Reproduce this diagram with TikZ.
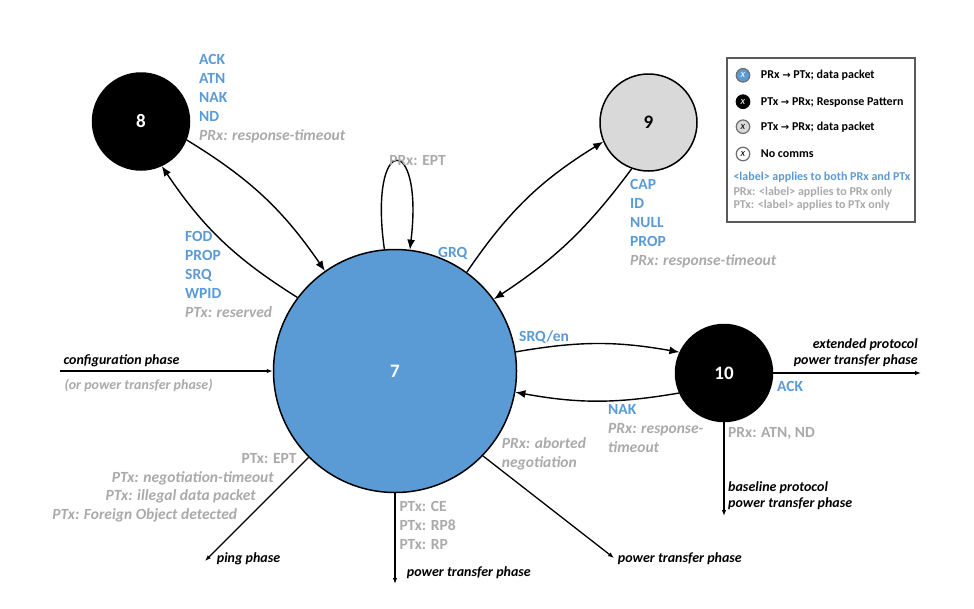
\documentclass[tikz,border=0pt]{standalone}
\usepackage{fontspec}
\setmainfont{Carlito}
\newfontfamily\symfont{DejaVu Sans}
\usetikzlibrary{arrows.meta}
\definecolor{cblue}{RGB}{91,155,213}
\definecolor{cgray}{RGB}{170,170,170}
\definecolor{cfill}{RGB}{217,217,217}
\definecolor{cbox}{RGB}{90,90,90}
\definecolor{cring}{RGB}{110,110,110}
\tikzset{
  state/.style={circle, draw=black, line width=1.5pt, inner sep=0pt, font=\fontsize{19}{23}\selectfont\bfseries},
  bigstate/.style={state, minimum size=243pt, fill=cblue, text=white},
  blackstate/.style={state, minimum size=97pt, fill=black, text=white},
  graystate/.style={state, minimum size=97pt, fill=cfill, text=black},
  conn/.style={line width=1.4pt, -{Latex[length=10pt,width=8pt]}},
  exitarr/.style={line width=1.3pt, -{Latex[length=6pt,width=4.5pt]}},
  lab/.style={inner sep=0pt, align=left, font=\fontsize{15.5}{19}\selectfont\bfseries},
  blab/.style={lab, text=cblue},
  glab/.style={inner sep=0pt, text=cgray, font=\fontsize{15.5}{19}\selectfont\bfseries\itshape},
  glabup/.style={inner sep=0pt, text=cgray, font=\fontsize{15.5}{19}\selectfont\bfseries},
  phase/.style={inner sep=0pt, text=black, font=\fontsize{14}{16}\selectfont\bfseries\itshape},
  gphase/.style={inner sep=0pt, text=cgray, font=\fontsize{14}{16}\selectfont\bfseries\itshape},
  icon/.style={circle, draw=cring, line width=1.2pt, minimum size=13.5pt, inner sep=0pt, font=\fontsize{10.5}{11}\selectfont\itshape},
  legtext/.style={inner sep=0pt, anchor=base west, font=\fontsize{12}{14}\selectfont\bfseries},
}
\newcommand{\gi}[1]{\textcolor{cgray}{\itshape #1}}
\newcommand{\arr}{{\symfont\fontsize{10}{12}\selectfont\bfseries →}}
\begin{document}
\begin{tikzpicture}[x=1pt,y=1pt]
\useasboundingbox[fill=white] (0,0) rectangle (974,-608);

% states
\node[bigstate] (n7) at (395,-371) {7};
\node[blackstate] (n8) at (141,-121.5) {8};
\node[graystate] (n9) at (648.5,-122.5) {9};
\node[blackstate] (n10) at (724,-373) {10};

% connectors between states
\draw[conn] (n7.143) to[bend left=12] (n8.-65);
\draw[conn] (n8.-22) to[bend left=12] (n7.125);
\draw[conn] (n7.95) .. controls (368,-132) and (424,-132) .. (n7.83);
\draw[conn] (n7.54) to[bend left=12] (n9.-157);
\draw[conn] (n9.-110) to[bend left=10] (n7.36);
\draw[conn] (n7.9) to[bend left=10] (n10.155);
\draw[conn] (n10.204) to[bend left=10] (n7.-10);

% entry / exits
\coordinate (c0) at (60,-371);
\coordinate (e1) at (921,-373);
\coordinate (e2) at (724,-516);
\coordinate (p1) at (205,-561);
\coordinate (p2) at (395,-584);
\coordinate (p3) at (614,-558);
\draw[exitarr] (c0) -- (n7.west);
\draw[exitarr] (n10.east) -- (e1);
\draw[exitarr] (n10.south) -- (e2);
\draw[exitarr] (n7.-135) -- (p1);
\draw[exitarr] (n7.south) -- (p2);
\draw[exitarr] (n7.-44) -- (p3);

% labels
\node[blab, anchor=north west] (l8) at (199,-50.7) {\strut ACK\\ATN\\NAK\\ND\\\gi{PRx: response-timeout}};
\node[blab, anchor=north west] (l78) at (185,-227.7) {\strut FOD\\PROP\\SRQ\\WPID\\\gi{PTx: reserved}};
\node[blab, anchor=north west] (l9) at (630,-176) {\strut CAP\\ID\\NULL\\PROP\\\gi{PRx: response-timeout}};
\node[blab, anchor=north west] (l107) at (608,-400.7) {\strut NAK\\\gi{PRx: response-}\\\gi{timeout}};
\node[glab, align=left, anchor=north west] (lab) at (501.7,-435) {\strut PRx: aborted\\negotiation};
\node[glabup, align=left, anchor=north west] (lce) at (399.3,-497.7) {\strut PTx: CE\\PTx: RP8\\PTx: RP};
\node[glabup, anchor=base] (lept) at (417.5,-165) {PRx: EPT};
\node[blab, anchor=base west] (lgrq) at (438,-257) {GRQ};
\node[blab, anchor=base west] (lsrq) at (519,-341.7) {SRQ/en};
\node[blab, anchor=base west] (lack) at (777,-391.7) {ACK};
\node[glabup, anchor=base west] (latn) at (728,-437.7) {PRx: ATN, ND};

\node[glabup, anchor=base east] (lp1) at (296.7,-463.3) {PTx: EPT};
\node[glab, anchor=base east] (lp2) at (274,-482.3) {PTx: negotiation-timeout};
\node[glab, anchor=base east] (lp3) at (256,-500.7) {PTx: illegal data packet};
\node[glab, anchor=base east] (lp4) at (237.3,-519.3) {PTx: Foreign Object detected};

\node[phase, align=right, anchor=north east] (lext) at (918,-336.8) {\strut extended protocol\\power transfer phase};
\node[phase, align=left, anchor=north west] (lbase) at (728,-480.5) {\strut baseline protocol\\power transfer phase};
\node[phase, anchor=base west] (lconf) at (63.3,-364.3) {configuration phase};
\node[gphase, anchor=base west] (lor) at (64.3,-389) {(or power transfer phase)};
\node[phase, anchor=base west] (lping) at (216.7,-562.7) {ping phase};
\node[phase, anchor=base west] (lpt1) at (406.7,-576.7) {power transfer phase};
\node[phase, anchor=base west] (lpt2) at (617.7,-562.3) {power transfer phase};

% legend
\draw[cbox, line width=1.2pt] (727,-58) rectangle (915,-222);
\node[icon, fill=cblue, text=white] (i1) at (743,-75.3) {x};
\node[icon, fill=black, draw=black, text=white] (i2) at (743,-101.7) {x};
\node[icon, fill=cfill, text=black] (i3) at (743,-126.7) {x};
\node[icon, fill=white, text=black] (i4) at (743,-154) {x};
\node[legtext] (t1) at (760.7,-78.8) {PRx \arr{} PTx; data packet};
\node[legtext] (t2) at (760.7,-105.5) {PTx \arr{} PRx; Response Pattern};
\node[legtext] (t3) at (760.7,-130.5) {PTx \arr{} PRx; data packet};
\node[legtext] (t4) at (760.7,-157.8) {No comms};
\node[legtext, text=cblue] (t5) at (733.3,-180.7) {<label> applies to both PRx and PTx};
\node[legtext, text=cgray] (t6) at (733.3,-195) {PRx: <label> applies to PRx only};
\node[legtext, text=cgray] (t7) at (733.3,-208.3) {PTx: <label> applies to PTx only};
\end{tikzpicture}
\end{document}
